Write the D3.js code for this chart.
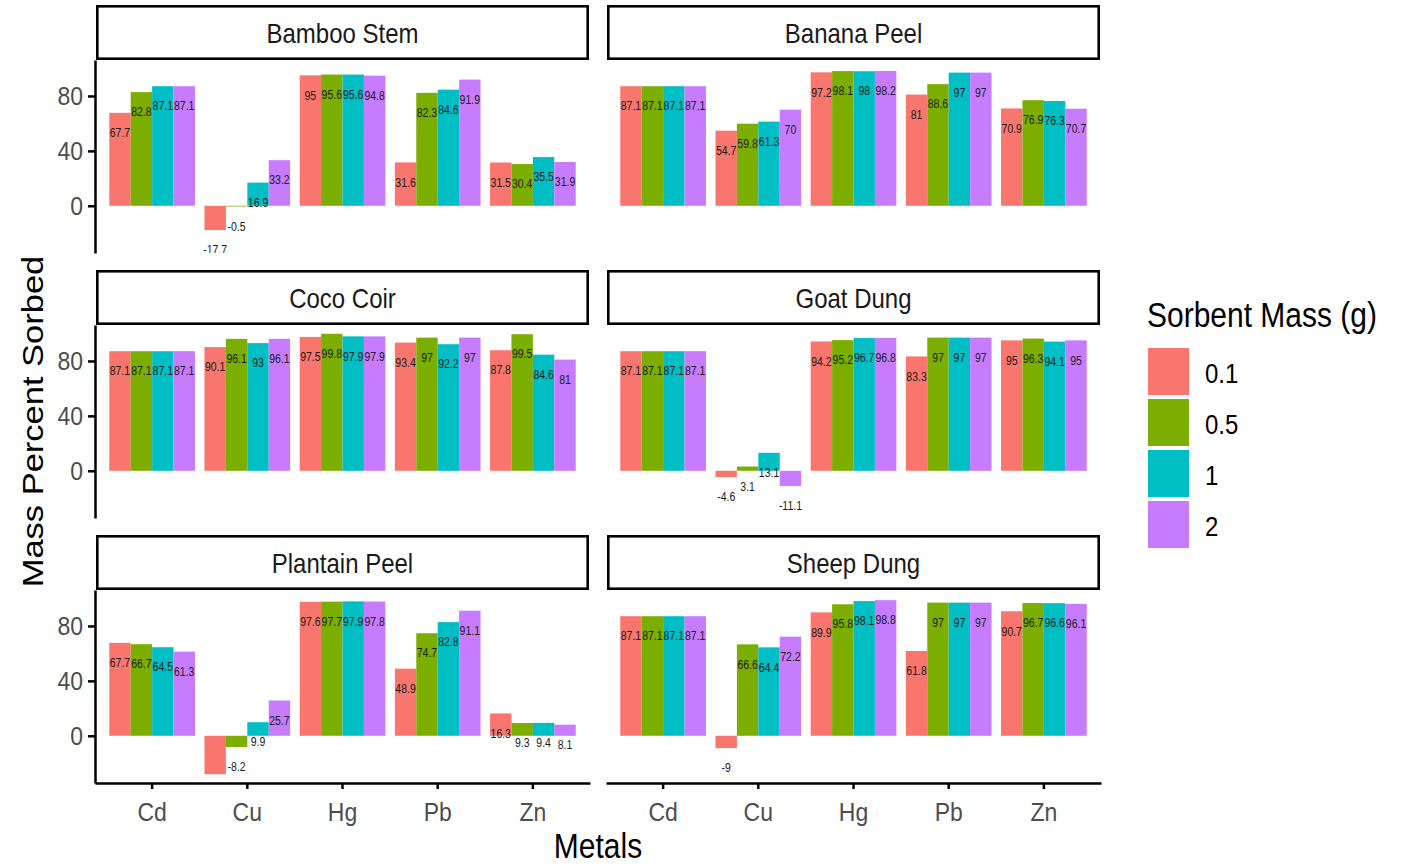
<!DOCTYPE html>
<html>
<head>
<meta charset="utf-8">
<script src="https://cdn.jsdelivr.net/npm/d3@7"></script>
<style>
  body { margin: 0; background: #fff; }
  svg { display: block; font-family: "Liberation Sans", Arial, sans-serif; }
</style>
</head>
<body>
<svg id="chart" width="1401" height="866"></svg>
<script>
// ---- data -------------------------------------------------------------
const sorbents = ["Bamboo Stem", "Banana Peel", "Coco Coir", "Goat Dung", "Plantain Peel", "Sheep Dung"];
const metals = ["Cd", "Cu", "Hg", "Pb", "Zn"];
const masses = ["0.1", "0.5", "1", "2"];
const massColors = ["#F8766D", "#7CAE00", "#00BFC4", "#C77CFF"];
const yTicks = [0, 40, 80];

// percent sorbed; one row per metal (Cd, Cu, Hg, Pb, Zn), one column per sorbent mass
const bambooStem   = [[67.7, 82.8, 87.1, 87.1], [-17.7, -0.5, 16.9, 33.2], [95, 95.6, 95.6, 94.8], [31.6, 82.3, 84.6, 91.9], [31.5, 30.4, 35.5, 31.9]];
const bananaPeel   = [[87.1, 87.1, 87.1, 87.1], [54.7, 59.8, 61.3, 70], [97.2, 98.1, 98, 98.2], [81, 88.6, 97, 97], [70.9, 76.9, 76.3, 70.7]];
const cocoCoir     = [[87.1, 87.1, 87.1, 87.1], [90.1, 96.1, 93, 96.1], [97.5, 99.8, 97.9, 97.9], [93.4, 97, 92.2, 97], [87.8, 99.5, 84.6, 81]];
const goatDung     = [[87.1, 87.1, 87.1, 87.1], [-4.6, 3.1, 13.1, -11.1], [94.2, 95.2, 96.7, 96.8], [83.3, 97, 97, 97], [95, 96.3, 94.1, 95]];
const plantainPeel = [[67.7, 66.7, 64.5, 61.3], [-28, -8.2, 9.9, 25.7], [97.6, 97.7, 97.9, 97.8], [48.9, 74.7, 82.8, 91.1], [16.3, 9.3, 9.4, 8.1]];
const sheepDung    = [[87.1, 87.1, 87.1, 87.1], [-9, 66.6, 64.4, 72.2], [89.9, 95.8, 98.1, 98.8], [61.8, 97, 97, 97], [90.7, 96.7, 96.6, 96.1]];
const sorbentValues = [bambooStem, bananaPeel, cocoCoir, goatDung, plantainPeel, sheepDung];

// long-format records
const records = [];
sorbents.forEach((s, si) => {
  metals.forEach((m, mi) => {
    masses.forEach((g, gi) => {
      records.push({ sorbent: s, metal: m, mass: g, value: sorbentValues[si][mi][gi] });
    });
  });
});

// ---- layout -----------------------------------------------------------
const STRETCH = 1.15;             // glyphs are drawn slightly tall
const colX = [95, 606];
const rowTop = [5, 270, 535];
const panelW = 495, stripH = 55, panelH = 193;
const nCols = 2;

const svg = d3.select("#chart");

const x = d3.scaleBand().domain(metals).range([0, panelW]).paddingInner(0.1).paddingOuter(0.15);
const xm = d3.scaleBand().domain(masses).range([0, x.bandwidth()]);
const color = d3.scaleOrdinal().domain(masses).range(massColors);

const lo = d3.min(records, d => d.value), hi = d3.max(records, d => d.value);
const pad = (hi - lo) * 0.05;
const y = d3.scaleLinear().domain([lo - pad, hi + pad]).range([panelH, 0]);

// text helper: tall glyphs via a vertical scale about the anchor point
function tallText(parent, px, py, str, opts = {}) {
  const t = parent.append("text")
    .attr("transform", opts.rotate
      ? `translate(${px},${py}) rotate(-90) scale(${STRETCH},1)`
      : `translate(${px},${py}) scale(1,${STRETCH})`)
    .attr("dy", "0.35em")
    .attr("text-anchor", opts.anchor || "middle")
    .attr("font-size", opts.size || 12)
    .attr("fill", opts.fill || "#000")
    .text(str);
  return t;
}

const nRows = Math.ceil(sorbents.length / nCols);

sorbents.forEach((s, i) => {
  const col = i % nCols, row = Math.floor(i / nCols);
  const g = svg.append("g").attr("transform", `translate(${colX[col]},${rowTop[row] + stripH})`);

  // strip
  const strip = g.append("g").attr("transform", `translate(0,${-stripH})`);
  strip.append("rect")
    .attr("x", 2.3).attr("y", 1.3)
    .attr("width", panelW - 4.6).attr("height", stripH - 2.6)
    .attr("fill", "#fff").attr("stroke", "#000").attr("stroke-width", 2.6);
  tallText(strip, panelW / 2, stripH / 2 + 1, s, { size: 24, fill: "#1A1A1A" });

  // clipping for marks
  const clipId = `clip-${i}`;
  g.append("clipPath").attr("id", clipId)
    .append("rect").attr("width", panelW).attr("height", panelH);
  const plot = g.append("g").attr("clip-path", `url(#${clipId})`);

  const data = records.filter(d => d.sorbent === s);

  plot.selectAll("rect.bar").data(data).join("rect")
    .attr("class", "bar")
    .attr("x", d => x(d.metal) + xm(d.mass))
    .attr("width", xm.bandwidth())
    .attr("y", d => y(Math.max(0, d.value)))
    .attr("height", d => Math.abs(y(d.value) - y(0)))
    .attr("fill", d => color(d.mass));

  data.forEach(d => {
    tallText(plot, x(d.metal) + xm(d.mass) + xm.bandwidth() / 2, y(d.value) + 20,
      String(d.value), { size: 10.5, fill: "#1A1A1A" });
  });

  // y axis on the first column
  if (col === 0) {
    const ya = g.append("g").call(d3.axisLeft(y).tickValues(yTicks).tickSize(7).tickSizeOuter(0));
    ya.select(".domain").attr("stroke", "#000").attr("stroke-width", 2.5);
    ya.selectAll(".tick line").attr("stroke", "#000").attr("stroke-width", 2.5);
    ya.selectAll(".tick text")
      .attr("x", -12).attr("dy", "0.33em")
      .attr("transform", `scale(1,${STRETCH})`)
      .attr("font-size", 23).attr("font-family", null).attr("fill", "#4D4D4D");
  }

  // x axis on the bottom row
  if (row === nRows - 1) {
    const xa = g.append("g").attr("transform", `translate(0,${panelH})`)
      .call(d3.axisBottom(x).tickSize(6).tickSizeOuter(0));
    xa.select(".domain").attr("stroke", "#000").attr("stroke-width", 2.5);
    xa.selectAll(".tick line").attr("stroke", "#000").attr("stroke-width", 2.5);
    xa.selectAll(".tick text")
      .attr("y", 25).attr("dy", "0.35em")
      .attr("transform", `scale(1,${STRETCH})`)
      .attr("font-size", 23).attr("font-family", null).attr("fill", "#4D4D4D");
  }
});

// axis titles
tallText(svg, (colX[0] + colX[1] + panelW) / 2, 846, "Metals", { size: 30 });
tallText(svg, 32, (rowTop[0] + stripH + rowTop[2] + stripH + panelH) / 2, "Mass Percent Sorbed", { size: 30, rotate: true });

// legend
const legend = svg.append("g").attr("transform", "translate(1147,0)");
tallText(legend, 0, 315, "Sorbent Mass (g)", { size: 30, anchor: "start" });
const keyY0 = 348, keyStep = 51, keyW = 41, keyH = 47;
masses.forEach((m, k) => {
  legend.append("rect")
    .attr("x", 1).attr("y", keyY0 + k * keyStep)
    .attr("width", keyW).attr("height", keyH)
    .attr("fill", color(m));
  tallText(legend, 58, keyY0 + k * keyStep + keyH / 2 + 2, m, { size: 24, anchor: "start" });
});
</script>
</body>
</html>
